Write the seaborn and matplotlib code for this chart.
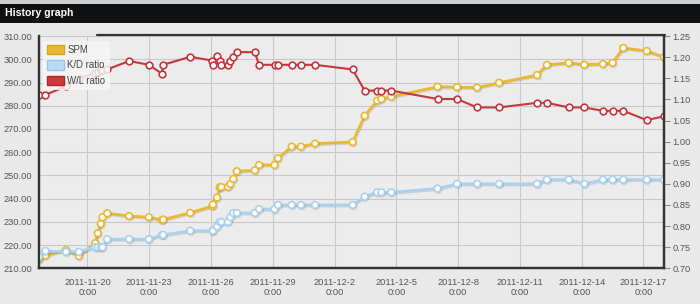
import matplotlib
matplotlib.use("Agg")
import matplotlib.pyplot as plt
import matplotlib.patheffects as pe
from matplotlib.patches import Patch, Rectangle
from matplotlib.lines import Line2D
import seaborn as sns
import pandas as pd

# ---------------- data ----------------
dates = ["2011-11-17 15:30", "2011-11-17 23:00", "2011-11-18 23:00", "2011-11-19 14:00",
         "2011-11-20 09:00", "2011-11-20 12:00", "2011-11-20 15:30", "2011-11-20 17:30",
         "2011-11-20 23:00", "2011-11-22 00:30", "2011-11-22 23:30", "2011-11-23 14:45",
         "2011-11-23 16:15", "2011-11-24 23:45", "2011-11-26 01:30", "2011-11-26 02:15",
         "2011-11-26 07:00", "2011-11-26 10:00", "2011-11-26 12:00", "2011-11-26 19:45",
         "2011-11-26 22:30", "2011-11-27 02:00", "2011-11-27 06:00", "2011-11-28 03:00",
         "2011-11-28 08:00", "2011-11-29 02:00", "2011-11-29 06:00", "2011-11-29 22:00",
         "2011-11-30 08:45", "2011-12-01 01:15", "2011-12-02 21:00", "2011-12-03 11:00",
         "2011-12-04 01:45", "2011-12-04 06:30", "2011-12-04 18:00", "2011-12-07 00:00",
         "2011-12-07 22:45", "2011-12-08 22:00", "2011-12-09 23:45", "2011-12-11 20:00",
         "2011-12-12 07:30", "2011-12-13 09:00", "2011-12-14 03:00", "2011-12-15 00:45",
         "2011-12-15 12:00", "2011-12-16 00:30", "2011-12-17 03:45", "2011-12-17 23:55"]

spm = [213.9, 215.5, 217.9, 215.3, 220.8, 225.1, 229.1, 232.0,
       233.7, 232.5, 232.0, 230.8, 231.0, 233.9, 236.8, 237.5,
       240.5, 244.9, 245.0, 245.1, 246.3, 248.5, 251.8, 252.2,
       254.5, 254.5, 257.4, 262.4, 262.4, 263.7, 264.4, 275.7,
       282.2, 282.9, 283.9, 288.2, 288.0, 287.8, 289.9, 293.2,
       297.6, 298.5, 297.7, 298.0, 298.5, 304.9, 303.6, 300.9]

kd_ratio = [0.727, 0.741, 0.739, 0.739, 0.750, 0.750, 0.750, 0.750,
            0.769, 0.769, 0.769, 0.779, 0.779, 0.789, 0.789, 0.789,
            0.799, 0.810, 0.810, 0.810, 0.821, 0.831, 0.831, 0.831,
            0.840, 0.840, 0.850, 0.850, 0.850, 0.850, 0.850, 0.870,
            0.880, 0.880, 0.880, 0.889, 0.900, 0.900, 0.900, 0.900,
            0.910, 0.910, 0.900, 0.910, 0.910, 0.910, 0.910, 0.910]

wl_ratio = [1.111, 1.111, 1.131, 1.149, 1.163, 1.165, 1.167, 1.169,
            1.171, 1.191, 1.182, 1.161, 1.182, 1.201, 1.192, 1.182,
            1.202, 1.191, 1.182, 1.182, 1.191, 1.201, 1.212, 1.212,
            1.182, 1.182, 1.182, 1.182, 1.182, 1.182, 1.171, 1.121,
            1.121, 1.121, 1.121, 1.101, 1.101, 1.081, 1.081, 1.092,
            1.092, 1.081, 1.081, 1.073, 1.073, 1.073, 1.051, 1.060]

x_tick_labels = ["2011-11-20", "2011-11-23", "2011-11-26", "2011-11-29", "2011-12-2",
                 "2011-12-5", "2011-12-8", "2011-12-11", "2011-12-14", "2011-12-17"]
left_ticks = [210, 220, 230, 240, 250, 260, 270, 280, 290, 300, 310]
right_ticks = [0.70, 0.75, 0.80, 0.85, 0.90, 0.95, 1.00, 1.05, 1.10, 1.15, 1.20, 1.25]
series_names = ["SPM", "K/D ratio", "W/L ratio"]
title = "History graph"

# ---------------- style ----------------
sns.set_theme(style="white")
plt.rcParams['font.family'] = ['Liberation Sans', 'DejaVu Sans']

BG = "#e9e9e9"
PLOT_BG = "#ececec"
GRID = "#c9c9c9"
TXT = "#555555"
YEL = "#eab934"
BLU = "#a9d2f0"
RED = "#c3383c"

df = pd.DataFrame({"date": pd.to_datetime(dates), "spm": spm,
                   "kd": kd_ratio, "wl": wl_ratio})

W, H = 700, 304
fig = plt.figure(figsize=(W / 100, H / 100), dpi=100, facecolor=BG)

def fx(px):
    return px / W

def fy(py):
    return 1 - py / H

top_px, bot_px, left_px, right_px = 36.1, 268.3, 39, 664
ax1 = fig.add_axes([fx(left_px), fy(bot_px), fx(right_px) - fx(left_px), (bot_px - top_px) / H])
ax1.set_facecolor(PLOT_BG)
ax2 = ax1.twinx()
ax2.patch.set_visible(False)

mk = dict(marker="o", markersize=4.8, markerfacecolor="white", markeredgewidth=1.2)
shadow = [pe.SimpleLineShadow(offset=(0.6, -0.8), shadow_color="#000000", alpha=0.12),
          pe.Normal()]

sns.lineplot(data=df, x="date", y="spm", ax=ax1, color=YEL, linewidth=2.0,
             markeredgecolor=YEL, legend=False, **mk)
ax1.lines[-1].set_path_effects(shadow)
sns.lineplot(data=df, x="date", y="kd", ax=ax2, color=BLU, linewidth=2.0,
             markeredgecolor=BLU, legend=False, **mk)
ax2.lines[-1].set_path_effects(shadow)
sns.lineplot(data=df, x="date", y="wl", ax=ax2, color=RED, linewidth=1.5,
             markeredgecolor=RED, legend=False, **mk)

# axes ranges
ax1.set_xlim(df["date"].min(), df["date"].max())
ax1.set_ylim(left_ticks[0], left_ticks[-1])
ax2.set_ylim(right_ticks[0], right_ticks[-1])

# ticks
tick_pos = pd.to_datetime(x_tick_labels)
ax1.set_xticks(tick_pos)
ax1.set_xticklabels([f"{t}\n0:00" for t in x_tick_labels])
ax1.set_yticks(left_ticks)
ax1.set_yticklabels([f"{v:.2f}" for v in left_ticks])
ax2.set_yticks(right_ticks)
ax2.set_yticklabels([f"{v:.2f}" for v in right_ticks])

ax1.tick_params(axis="x", length=0, pad=7, labelsize=6.7, colors=TXT)
ax1.tick_params(axis="y", length=0, pad=5, labelsize=6.7, colors=TXT)
ax2.tick_params(axis="y", length=4, width=0.8, direction="out", pad=2,
                labelsize=6.7, colors="#8a8a8a", labelcolor=TXT)

ax1.set_xlabel("")
ax1.set_ylabel("")
ax2.set_ylabel("")

ax1.grid(True, color=GRID, linewidth=0.8)
ax1.set_axisbelow(True)

for a in (ax1, ax2):
    for s in ("left", "bottom", "right"):
        a.spines[s].set_color("#333333")
        a.spines[s].set_linewidth(1.6)
    a.spines["top"].set_visible(False)

# legend
handles = [Patch(facecolor=YEL, edgecolor="#d6a424", label=series_names[0]),
           Patch(facecolor="#b8dcf6", edgecolor="#9cc6e6", label=series_names[1]),
           Patch(facecolor="#cc3a3a", edgecolor="#a82a2a", label=series_names[2])]
leg = ax2.legend(handles=handles, loc="upper left",
                 bbox_to_anchor=(fx(43), fy(40.7)), bbox_transform=fig.transFigure,
                 borderaxespad=0, borderpad=0.45, handlelength=1.7, handleheight=1.1,
                 handletextpad=0.4, labelspacing=0.55, fontsize=6.9,
                 frameon=True, fancybox=False, framealpha=0.85, facecolor="#f6f6f6",
                 edgecolor="none")
for t in leg.get_texts():
    t.set_color("#444444")
leg.set_zorder(20)

# title bar and frame decorations
fig.add_artist(Rectangle((0, fy(4)), 1, 4 / H, transform=fig.transFigure,
                         facecolor="#cfcfcf", edgecolor="none", zorder=5))
fig.add_artist(Rectangle((0, fy(22.7)), 1, (22.7 - 4) / H, transform=fig.transFigure,
                         facecolor="#101112", edgecolor="none", zorder=5))
fig.text(fx(5), fy(13.5), title, color="white", fontsize=7.6, fontweight="bold",
         va="center", ha="left", zorder=6)
fig.add_artist(Rectangle((0, fy(33.5)), fx(38), (33.5 - 22.7) / H,
                         transform=fig.transFigure, facecolor=BG, edgecolor="none",
                         zorder=5))
fig.add_artist(Line2D([fx(97), fx(right_px + 0.8)], [fy(35.0), fy(35.0)],
                      transform=fig.transFigure, color="#333333", linewidth=1.6,
                      zorder=6))

fig.savefig("out.png", dpi=100, facecolor=BG)
